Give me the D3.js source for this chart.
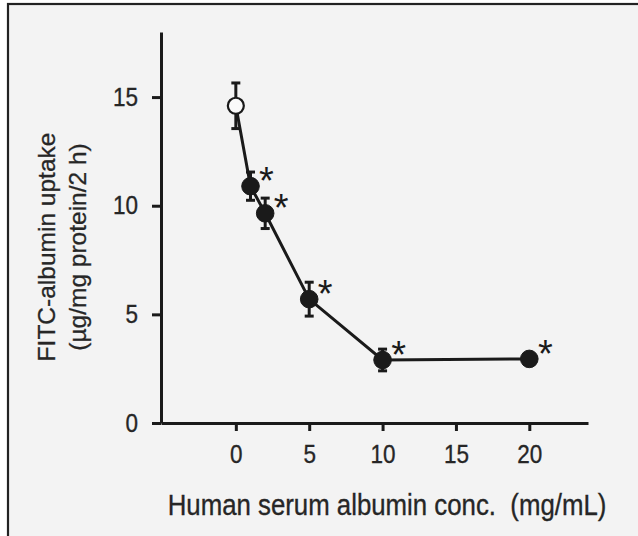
<!DOCTYPE html>
<html><head><meta charset="utf-8">
<script src="https://cdn.jsdelivr.net/npm/d3@7"></script>
<style>html,body{margin:0;padding:0;background:#fff;}svg{display:block;}text{white-space:pre;}</style>
</head><body>
<script>
const conc   = [0, 1, 2, 5, 10, 20];
const uptake = [14.6, 10.9, 9.65, 5.7, 2.9, 2.95];
const sem    = [1.05, 0.65, 0.7, 0.78, 0.5, 0];
const signif = [false, true, true, true, true, true];
const xTicks = [0, 5, 10, 15, 20];
const yTicks = [0, 5, 10, 15];
const xTitle = "Human serum albumin conc.  (mg/mL)";
const yTitle1 = "FITC-albumin uptake";
const yTitle2 = "(\u00b5g/mg protein/2 h)";

const W = 638, H = 536;
const ink = "#1a1a1a";
const svg = d3.select("body").append("svg").attr("width", W).attr("height", H);
svg.append("rect").attr("width", W).attr("height", H).attr("fill", "#fff");
svg.append("rect").attr("x", 8).attr("y", 4).attr("width", W).attr("height", H)
  .attr("fill", "#f3f3f3").attr("stroke", "#222").attr("stroke-width", 2.2);

const x = d3.scaleLinear().domain([-5.1, 24]).range([161, 588]);
const y = d3.scaleLinear().domain([0, 18]).range([423, 31.9]);
const font = "Arial, 'Liberation Sans', sans-serif";

// axes
const gx = svg.append("g").attr("transform", `translate(0,${y(0)})`)
  .call(d3.axisBottom(x).tickValues(xTicks).tickSize(8).tickSizeOuter(0).tickPadding(6));
const gy = svg.append("g").attr("transform", `translate(${x(-5.1)},0)`)
  .call(d3.axisLeft(y).tickValues(yTicks).tickSize(9).tickSizeOuter(0).tickPadding(14));
[gx, gy].forEach(g => {
  g.select(".domain").attr("stroke", ink).attr("stroke-width", 3);
  g.selectAll(".tick line").attr("stroke", ink).attr("stroke-width", 3);
  g.selectAll(".tick text").attr("fill", "#262626").attr("font-family", font).attr("font-size", 22.5)
    .attr("stroke", "#262626").attr("stroke-width", 0.3);
});
gx.selectAll(".tick text").attr("dy", null).attr("y", 0)
  .attr("transform", "translate(0,40) scale(1,1.15)");
gy.selectAll(".tick text").attr("dy", null).attr("x", 0)
  .attr("transform", "translate(-23,8) scale(1,1.15)");

// line
const pts = conc.map((c, i) => ({c, v: uptake[i], e: sem[i], s: signif[i], open: i === 0}));
svg.append("path").datum(pts)
  .attr("d", d3.line().x(d => x(d.c)).y(d => y(d.v)))
  .attr("fill", "none").attr("stroke", ink).attr("stroke-width", 3);

// error bars
const eb = svg.append("g").selectAll("g").data(pts.filter(d => d.e > 0)).join("g");
eb.append("line").attr("x1", d => x(d.c)).attr("x2", d => x(d.c))
  .attr("y1", d => y(d.v + d.e)).attr("y2", d => y(d.v - d.e))
  .attr("stroke", ink).attr("stroke-width", 3);
eb.selectAll("line.cap").data(d => [[d.c, d.v + d.e], [d.c, d.v - d.e]]).join("line")
  .attr("class", "cap")
  .attr("x1", d => x(d[0]) - 4.5).attr("x2", d => x(d[0]) + 4.5)
  .attr("y1", d => y(d[1])).attr("y2", d => y(d[1]))
  .attr("stroke", ink).attr("stroke-width", 3);

// markers
svg.append("g").selectAll("circle").data(pts).join("circle")
  .attr("cx", d => x(d.c)).attr("cy", d => y(d.v))
  .attr("r", d => d.open ? 8 : 8.8)
  .attr("fill", d => d.open ? "#fafafa" : ink)
  .attr("stroke", ink).attr("stroke-width", d => d.open ? 2.2 : 1);

// asterisks
svg.append("g").selectAll("text").data(pts.filter(d => d.s)).join("text")
  .attr("x", d => x(d.c) + 16).attr("y", d => y(d.v) + 8)
  .attr("text-anchor", "middle").attr("font-family", font).attr("font-size", 38)
  .attr("fill", ink).text("*");

// titles
svg.append("text").attr("transform", "translate(387,515) scale(1,1.15)")
  .attr("text-anchor", "middle").attr("font-family", font).attr("font-size", 25.8)
  .attr("fill", "#262626").attr("stroke", "#262626").attr("stroke-width", 0.3).text(xTitle);
svg.append("text").attr("transform", "translate(55,247) rotate(-90)")
  .attr("text-anchor", "middle").attr("font-family", font).attr("font-size", 24.5)
  .attr("fill", "#262626").attr("stroke", "#262626").attr("stroke-width", 0.3).text(yTitle1);
svg.append("text").attr("transform", "translate(86,247) rotate(-90)")
  .attr("text-anchor", "middle").attr("font-family", font).attr("font-size", 24.5)
  .attr("fill", "#262626").attr("stroke", "#262626").attr("stroke-width", 0.3).text(yTitle2);
</script>
</body></html>
